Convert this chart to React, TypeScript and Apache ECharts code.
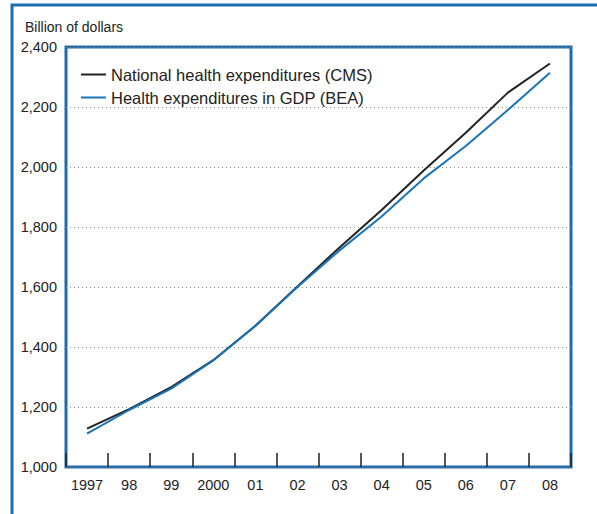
import React, { useEffect, useRef } from "react";
import * as echarts from "echarts";

const years = ["1997", "98", "99", "2000", "01", "02", "03", "04", "05", "06", "07", "08"];
const cmsValues = [1128, 1193, 1266, 1356, 1471, 1602, 1732, 1857, 1988, 2114, 2248, 2345];
const beaValues = [1111, 1190, 1261, 1355, 1470, 1600, 1722, 1835, 1962, 2070, 2190, 2314];
const seriesNames = ["National health expenditures (CMS)", "Health expenditures in GDP (BEA)"];
const yTicks = { min: 1000, max: 2400, interval: 200 };
const unitLabel = "Billion of dollars";

const FONT = "'Liberation Sans Narrow', 'Arial Narrow', 'Liberation Sans', sans-serif";
const FRAME_BLUE = "#1a6db0";

export default function App() {
  const ref = useRef<HTMLDivElement>(null);
  useEffect(() => {
    if (!ref.current) return;
    const chart = echarts.init(ref.current, undefined, { renderer: "svg" });
    chart.setOption({
      animation: false,
      backgroundColor: "#ffffff",
      textStyle: { fontFamily: FONT },
      grid: {
        left: 66,
        right: 26,
        top: 47,
        bottom: 47,
        show: true,
        borderColor: FRAME_BLUE,
        borderWidth: 3,
        backgroundColor: "transparent",
      },
      legend: {
        show: true,
        orient: "vertical",
        left: 76,
        top: 60,
        itemWidth: 25,
        itemHeight: 2,
        itemGap: 4,
        icon: "rect",
        textStyle: { fontFamily: FONT, fontSize: 16.5, color: "#222", lineHeight: 19, padding: [0, 0, 0, 0] },
        data: seriesNames,
      },
      xAxis: {
        type: "category",
        data: years,
        boundaryGap: true,
        axisLine: { show: false },
        axisTick: { show: true, inside: true, interval: 0, length: 14, lineStyle: { color: "#222", width: 1.5 } },
        axisLabel: { fontFamily: FONT, fontSize: 14.5, color: "#222", margin: 10, interval: 0 },
        splitLine: { show: false },
      },
      yAxis: {
        type: "value",
        min: yTicks.min,
        max: yTicks.max,
        interval: yTicks.interval,
        axisLine: { show: false },
        axisTick: { show: false },
        axisLabel: {
          fontFamily: FONT,
          fontSize: 14.5,
          color: "#222",
          margin: 9,
          formatter: (v: number) => v.toLocaleString("en-US"),
        },
        splitLine: { show: true, lineStyle: { color: "#888", type: [1, 3], width: 1 } },
      },
      graphic: [
        {
          type: "polyline",
          shape: { points: [[12, 514], [12, 5], [597, 5]] },
          style: { stroke: FRAME_BLUE, lineWidth: 3, fill: "none" },
          z: 10,
        },
        {
          type: "text",
          left: 25,
          top: 20,
          style: { text: unitLabel, fontFamily: FONT, fontSize: 14, fill: "#222" },
        },
      ],
      series: [
        {
          name: seriesNames[0],
          type: "line",
          data: cmsValues,
          symbol: "none",
          lineStyle: { color: "#222", width: 2 },
          itemStyle: { color: "#222" },
          z: 3,
        },
        {
          name: seriesNames[1],
          type: "line",
          data: beaValues,
          symbol: "none",
          lineStyle: { color: "#1a74b8", width: 2 },
          itemStyle: { color: "#1a74b8" },
          z: 4,
        },
      ],
    });
    return () => chart.dispose();
  }, []);
  return (
    <div
      ref={ref}
      style={{ position: "fixed", left: 0, top: 0, width: 597, height: 514 }}
    />
  );
}
